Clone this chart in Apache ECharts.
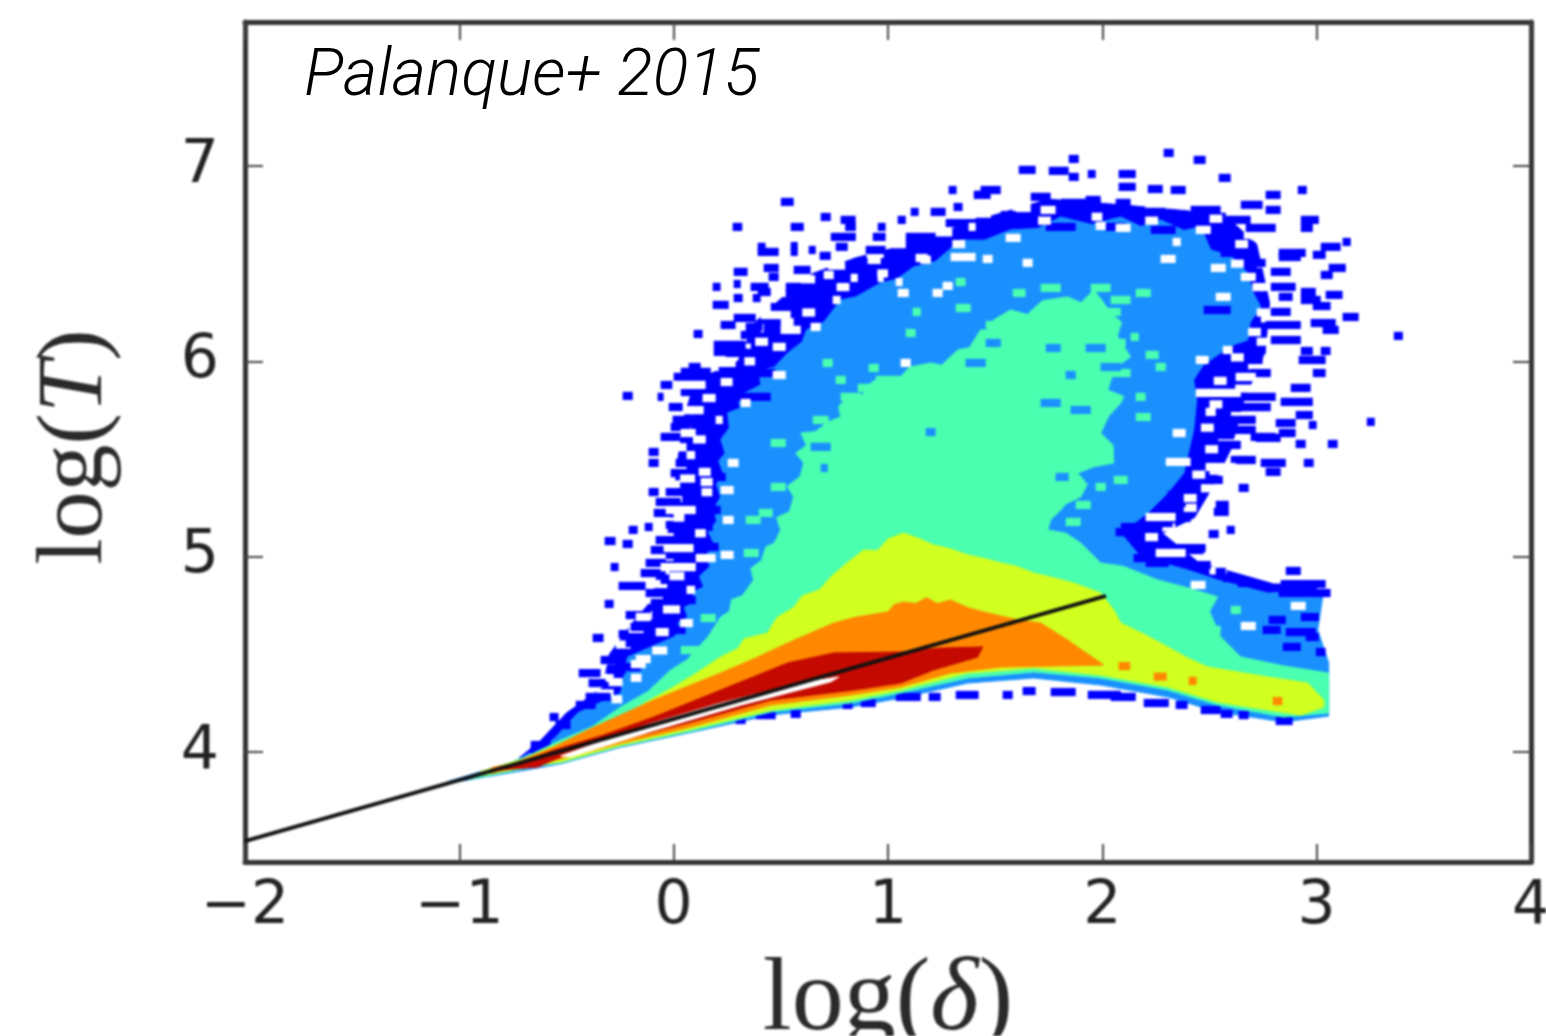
<!DOCTYPE html>
<html><head><meta charset="utf-8">
<style>
html,body{margin:0;padding:0;background:#fff}
#c{width:1546px;height:1036px}
#c canvas[data-zr-dom-id="zr_0"]{filter:blur(0.8px)}
</style>
<script src="https://cdn.jsdelivr.net/npm/echarts@6/dist/echarts.min.js"></script>
</head><body><div id="c"></div>
<script>
const xTicks=[-2,-1,0,1,2,3,4];
const xTickLabels=['−2','−1','0','1','2','3','4'];
const yTicks=[4,5,6,7];
const yTickLabels=['4','5','6','7'];
const fitLine=[[-2,3.544],[2.017,4.799]];
const levelFringe=[[-.72,3.97],[-.62,4.06],[-.5,4.2],[-.33,4.33],[-.3,4.5],[-.2,4.65],[-.1,4.78],[-.07,4.95],[-.03,5.1],[0,5.3],[.02,5.5],[.05,5.72],[.1,5.9],[.3,6.0],[.38,6.2],[.5,6.32],[.65,6.45],[.85,6.53],[1.1,6.6],[1.3,6.68],[1.5,6.75],[1.75,6.83],[2.1,6.8],[2.4,6.77],[2.6,6.72],[2.72,6.6],[2.78,6.3],[2.76,6.05],[2.66,5.8],[2.6,5.55],[2.5,5.33],[2.43,5.2],[2.28,5.12],[2.45,4.97],[2.8,4.86],[3.0,4.86],[3.0,4.6],[2.5,4.5],[.2,4.5]];
const fringeNotches=[[4.3,-.36,-.28],[4.38,-.34,-.28],[4.47,-.33,-.26],[4.55,-.27,-.2],[4.63,-.21,-.14],[4.7,-.17,-.1],[4.78,-.13,-.05],[4.86,-.1,-.03],[4.93,-.09,-.02],[5.0,-.08,0],[5.1,-.06,0],[5.18,-.04,.03],[5.3,-.02,.04],[5.37,-.02,.03],[5.45,0,.06],[5.56,0,.06],[5.65,.03,.08],[5.75,.03,.09],[5.86,.05,.11],[5.97,.2,.27],[6.07,.28,.36],[6.17,.34,.42],[6.26,.42,.5],[6.35,.48,.56],[6.42,.58,.66],[6.49,.72,.8],[6.55,.9,.98],[6.6,1.02,1.1],[6.66,1.22,1.3],[6.73,1.4,1.48],[6.79,1.58,1.66],[6.8,2.2,2.3],[6.75,2.55,2.62],[6.64,2.66,2.74],[6.5,2.72,2.78],[6.38,2.74,2.8],[6.22,2.74,2.8],[6.1,2.72,2.78],[5.98,2.68,2.76],[5.86,2.62,2.7],[5.72,2.6,2.66],[5.58,2.54,2.62],[5.44,2.5,2.56],[5.35,2.46,2.52],[5.25,2.38,2.44],[5.15,2.28,2.34],[5.04,2.36,2.44],[4.93,2.5,2.58]];
const levelBlue=[[-1.05,3.85],[-.75,3.95],[-.6,4.03],[-.55,4.077],[-.448,4.2],[-.247,4.302],[-.215,4.486],[0,4.589],[.03,4.62],[.02,4.66],[.065,4.691],[.05,4.74],[.1,4.77],[.09,4.82],[.14,4.845],[.12,4.9],[.17,4.95],[.15,5.0],[.187,5.07],[.16,5.13],[.2,5.18],[.19,5.25],[.219,5.306],[.2,5.37],[.23,5.43],[.21,5.49],[.24,5.53],[.22,5.6],[.26,5.66],[.252,5.736],[.31,5.76],[.3,5.82],[.406,5.879],[.4,5.95],[.47,5.97],[.532,6.043],[.6,6.1],[.62,6.16],[.7,6.2],[.779,6.314],[.85,6.33],[.966,6.401],[1.04,6.42],[1.12,6.483],[1.22,6.51],[1.339,6.621],[1.45,6.62],[1.572,6.673],[1.7,6.68],[1.806,6.739],[1.95,6.7],[2.086,6.739],[2.18,6.69],[2.272,6.724],[2.38,6.67],[2.459,6.688],[2.506,6.57],[2.6,6.54],[2.678,6.452],[2.7,6.36],[2.739,6.278],[2.69,6.2],[2.678,6.109],[2.6,6.08],[2.552,6.043],[2.47,5.98],[2.426,5.905],[2.44,5.8],[2.426,5.649],[2.38,5.428],[2.305,5.326],[2.212,5.224],[2.086,5.121],[2.179,4.998],[2.398,4.932],[2.538,4.881],[2.772,4.814],[3.033,4.829],[3.005,4.625],[3.056,4.456],[3.056,4.184],[2.846,4.154],[2.538,4.205],[2.305,4.282],[1.992,4.343],[1.68,4.379],[1.372,4.353],[1.059,4.276],[.826,4.23],[.453,4.19],[.079,4.1],[-.247,4.025],[-.527,3.94],[-.65,3.915],[-1.05,3.84]];
const levelGreen=[[-.95,3.875],[-.7,3.97],[-.527,4.061],[-.38,4.13],[-.247,4.23],[-.12,4.31],[-.014,4.42],[.06,4.47],[.159,4.589],[.19,4.64],[.219,4.691],[.26,4.72],[.27,4.78],[.32,4.8],[.373,4.881],[.36,4.94],[.41,4.98],[.43,5.05],[.47,5.07],[.499,5.137],[.48,5.2],[.54,5.23],[.56,5.306],[.53,5.36],[.59,5.41],[.607,5.48],[.57,5.53],[.62,5.57],[.593,5.633],[.66,5.64],[.72,5.69],[.779,5.715],[.77,5.77],[.812,5.818],[.88,5.83],[.92,5.89],[.966,5.92],[1.05,5.91],[1.1,5.97],[1.199,5.992],[1.25,5.98],[1.325,6.058],[1.38,6.07],[1.432,6.161],[1.47,6.16],[1.493,6.212],[1.572,6.263],[1.65,6.24],[1.72,6.31],[1.838,6.33],[1.9,6.3],[1.96,6.365],[2.0,6.31],[2.039,6.248],[2.09,6.2],[2.07,6.13],[2.132,6.022],[2.06,5.97],[2.025,5.853],[2.1,5.82],[2.086,5.787],[2.03,5.72],[1.992,5.633],[2.05,5.57],[2.053,5.48],[1.96,5.46],[1.885,5.428],[1.93,5.37],[1.899,5.306],[1.83,5.27],[1.806,5.239],[1.76,5.19],[1.745,5.137],[1.83,5.12],[1.899,5.07],[1.992,4.968],[2.1,4.95],[2.258,4.881],[2.4,4.84],[2.538,4.794],[2.5,4.72],[2.552,4.589],[2.646,4.486],[2.85,4.44],[3.056,4.404],[3.056,4.2],[2.846,4.179],[2.538,4.241],[2.305,4.317],[1.992,4.379],[1.68,4.41],[1.372,4.379],[1.059,4.302],[.826,4.251],[.453,4.205],[.079,4.105],[-.247,4.03],[-.527,3.945],[-.65,3.925],[-.95,3.86]];
const levelYellow=[[-.9,3.9],[-.7,3.965],[-.527,4.046],[-.38,4.11],[-.247,4.179],[-.12,4.26],[0,4.333],[.1,4.4],[.219,4.486],[.3,4.53],[.33,4.58],[.439,4.609],[.46,4.65],[.485,4.691],[.56,4.74],[.6,4.8],[.68,4.83],[.733,4.896],[.8,4.96],[.887,5.034],[.95,5.03],[1.0,5.09],[1.073,5.121],[1.15,5.09],[1.213,5.06],[1.29,5.04],[1.372,5.009],[1.45,4.99],[1.526,4.968],[1.6,4.95],[1.68,4.916],[1.78,4.89],[1.866,4.865],[1.992,4.814],[2.053,4.727],[2.086,4.66],[2.2,4.6],[2.305,4.538],[2.4,4.48],[2.492,4.435],[2.63,4.41],[2.772,4.384],[2.958,4.353],[3.033,4.266],[3.033,4.23],[2.926,4.189],[2.772,4.215],[2.538,4.256],[2.305,4.333],[1.992,4.394],[1.68,4.43],[1.372,4.404],[1.059,4.317],[.826,4.266],[.453,4.215],[.079,4.115],[-.247,4.035],[-.527,3.95],[-.65,3.93],[-.9,3.88]];
const levelOrange=[[-.85,3.92],[-.75,3.94],[-.56,4.026],[-.401,4.113],[-.093,4.266],[.219,4.404],[.38,4.48],[.532,4.558],[.62,4.6],[.747,4.66],[.85,4.69],[.999,4.717],[1.03,4.755],[1.073,4.768],[1.13,4.76],[1.18,4.79],[1.23,4.76],[1.292,4.778],[1.37,4.74],[1.446,4.717],[1.605,4.676],[1.712,4.66],[1.838,4.573],[2.006,4.445],[1.526,4.435],[1.292,4.404],[1.059,4.333],[.826,4.292],[.453,4.241],[.079,4.128],[-.247,4.045],[-.527,3.965],[-.747,3.918],[-.85,3.89]];
const levelRed=[[-.807,3.908],[-.56,4.01],[-.327,4.087],[-.093,4.179],[.219,4.317],[.532,4.456],[.747,4.507],[1.059,4.512],[1.246,4.532],[1.442,4.538],[1.418,4.486],[1.213,4.42],[1.059,4.353],[.84,4.317],[.453,4.266],[.065,4.148],[-.247,4.061],[-.481,3.995],[-.635,3.923]];
const emptyStripe=[[-.527,3.98],[-.107,4.145],[.219,4.25],[.593,4.355],[.77,4.384],[.733,4.36],[.313,4.24],[-.107,4.105],[-.481,3.975]];
// sparse histogram runs: [log T, log delta from, log delta to]
const sparseRuns=[[6.816,.5,.56],[6.688,.275,.32],[6.688,.546,.607],[6.739,.686,.733],[6.724,.779,.849],[6.688,.8,.85],[6.637,.733,.85],[6.586,.756,.812],[6.688,.952,.989],[6.637,.929,.989],[6.57,.896,.989],[6.586,.392,.429],[6.56,.392,.49],[6.59,.546,.579],[6.56,.546,.579],[6.57,.63,.663],[6.54,.681,.733],[6.478,.42,.49],[6.432,.443,.49],[6.458,.28,.345],[6.396,.28,.313],[6.381,.182,.219],[6.381,.359,.443],[6.355,.392,.453],[6.468,.56,.639],[6.381,.523,.593],[6.35,.523,.569],[6.324,.28,.322],[6.324,.369,.406],[6.289,.182,.257],[6.278,.453,.546],[6.222,.28,.383],[6.176,.336,.415],[6.186,.219,.289],[6.14,.093,.135],[6.135,.313,.406],[6.084,.187,.336],[6.048,.187,.336],[6.299,.546,.709],[6.33,.593,.709],[6.401,.663,.826],[6.427,.709,.849],[6.637,1.083,1.222],[6.596,1.083,1.176],[6.765,1.106,1.143],[6.724,1.045,1.083],[6.877,1.283,1.32],[6.79,1.306,1.348],[6.765,1.199,1.269],[6.852,1.4,1.432],[6.708,1.269,1.432],
[5.92,0,.196],[5.971,.07,.126],[5.946,.033,.173],[5.879,-.061,-.005],[5.843,.033,.149],[5.818,-.075,-.047],[5.823,-.238,-.191],[5.766,-.023,.042],[5.7,-.005,.149],[5.664,-.014,.079],[5.613,-.061,.033],[5.623,.065,.149],[5.869,.126,.289],[5.818,.149,.289],[5.818,.289,.453],[6.043,.243,.406],[5.956,.21,.336],[5.94,.359,.476],
[5.536,-.117,-.07],[5.48,-.117,-.07],[5.331,-.117,-.07],[5.137,-.21,-.168],[5.152,-.135,-.098],[5.08,-.322,-.271],[5.065,-.238,-.191],[4.947,-.294,-.257],[4.85,-.257,-.131],[4.758,-.322,-.28],[4.584,-.378,-.327],[4.604,-.257,-.219],[4.179,-.579,-.537],
[5.48,.009,.149],[5.531,.079,.173],[5.428,-.014,.079],[5.408,.126,.243],[5.331,-.037,.126],[5.28,-.084,.033],[5.28,.056,.196],[5.224,-.093,.009],[5.239,.103,.219],[5.162,-.037,.079],[5.152,.103,.182],[5.085,-.084,.033],[5.034,-.107,-.005],[5.05,.126,.21],[5.009,-.037,.079],[4.968,-.131,-.037],[4.947,.079,.126],[4.916,-.154,-.037],[4.881,-.061,.079],[4.814,-.131,-.014],[4.778,-.014,.103],[4.763,-.107,-.005],[4.701,-.224,-.107],[4.712,-.061,.033],[4.64,-.201,-.084],[4.625,-.037,.056],[4.558,-.224,-.107],[4.471,-.341,-.224],[4.435,-.271,-.154],[4.404,-.443,-.341],[4.353,-.397,-.317],[4.282,-.411,-.294],[4.241,-.457,-.364],[4.138,-.551,-.481],[4.036,-.667,-.574],[4.01,-.667,-.574],[4.42,-.308,-.224],
[4.164,.289,.336],[4.189,.383,.476],[4.195,.546,.593],[4.241,.789,.835],[4.251,.873,.943],[4.282,1.036,1.153],[4.282,1.19,1.246],[4.292,1.316,1.423],[4.292,1.535,1.582],[4.312,1.628,1.689],[4.307,1.759,1.876],[4.292,1.932,2.086],[4.282,2.039,2.156],[4.251,2.193,2.31],[4.241,2.342,2.398],[4.215,2.459,2.552],[4.195,2.552,2.608],[4.189,2.636,2.683],[4.159,2.809,2.888],
[4.927,2.856,2.926],[4.86,2.832,3.042],[4.814,2.823,3.019],[4.814,3.0,3.065],[4.691,2.926,3.01],[4.676,2.776,2.856],[4.625,2.748,2.832],[4.614,2.856,2.996],[4.538,2.842,2.926],[4.512,2.996,3.042],[4.589,2.949,3.01],
[5.126,2.062,2.226],[5.152,2.086,2.202],[5.172,2.249,2.328],[5.198,2.356,2.412],[5.316,2.305,2.403],[5.275,2.319,2.389],[5.265,2.529,2.59],[5.229,2.52,2.59],[5.137,2.58,2.618],[5.116,2.496,2.543],[5.352,2.636,2.683],[5.044,2.328,2.482],[5.034,2.389,2.473],[4.993,2.146,2.296],[4.968,2.202,2.31],[4.957,2.412,2.506],[4.922,2.529,2.576],[4.891,2.562,2.622],[4.865,2.632,2.692],[4.855,2.702,2.748],
[7.067,2.286,2.333],[7.031,2.426,2.482],[6.939,2.543,2.599],[7.036,1.843,1.89],[6.98,1.61,1.689],[6.975,1.75,1.843],[6.944,1.843,1.89],[6.959,1.932,1.969],[6.959,2.076,2.156],[6.893,2.076,2.156],[6.882,2.212,2.282],[6.877,2.319,2.389],[6.877,2.912,2.954],[6.852,2.762,2.832],[6.801,2.646,2.748],[6.775,2.762,2.832],[6.724,2.926,3.01],[6.683,2.926,2.982],[6.555,2.823,2.949],[6.534,2.823,2.926],[6.586,3.019,3.112],[6.545,2.982,3.042],[6.611,3.121,3.159],[6.478,3.056,3.136],[6.442,3.019,3.075],[6.458,2.786,2.879],[6.381,2.786,2.902],[6.33,2.823,2.888],[6.355,2.926,2.996],[6.34,3.042,3.121],[6.314,2.926,3.019],[6.283,2.982,3.065],[6.253,2.786,2.879],[6.227,3.121,3.196],[6.196,2.972,3.089],[6.161,3.028,3.103],[6.186,2.762,2.926],[6.13,3.36,3.402],[6.109,2.786,2.926],[5.69,3.234,3.271],[6.053,2.926,2.982],[6.053,3.019,3.065],[6.007,2.916,3.042],[5.94,2.982,3.042],[6.058,2.622,2.762],[6.007,2.622,2.748],[5.94,2.692,2.786],[5.864,2.879,2.972],[5.792,2.832,2.982],[5.725,2.902,2.982],[5.684,2.809,2.902],[5.674,2.963,3.0],[5.633,2.823,2.888],[5.818,2.646,2.809],[5.766,2.599,2.786],[5.7,2.552,2.716],[5.649,2.576,2.716],[5.613,2.692,2.809],[6.263,2.473,2.599],
[6.811,1.806,1.992],[6.775,1.806,1.969],[6.842,1.666,1.759],[6.826,1.922,1.992],[6.877,1.432,1.526],[6.852,1.409,1.479],[6.811,2.062,2.132],[6.765,2.179,2.296],[6.775,2.412,2.552],[6.739,2.412,2.576],[6.724,2.576,2.692],[6.683,2.669,2.809],[6.673,2.226,2.342],[6.749,1.526,1.666],[6.714,1.409,1.526],[6.724,1.526,1.689],[6.688,1.736,1.876],[6.688,2.016,2.109],[6.555,2.552,2.669],[6.504,2.669,2.762],[6.606,2.576,2.692],
[5.572,2.506,2.646],[5.459,2.459,2.576],[5.393,2.436,2.562],[5.495,2.599,2.716],[5.48,2.739,2.856],[5.434,2.762,2.832],[5.608,2.716,2.832],[5.577,2.902,2.949],[5.577,3.052,3.098],[5.48,2.94,2.986],[5.633,2.832,2.902]];
const emptyRuns=[[6.688,1.376,1.409],[6.529,1.129,1.185],[6.534,1.292,1.409],[6.519,.905,.966],[6.427,.826,.859],[6.427,.952,.98],[6.406,1.036,1.068],[6.35,1.045,1.097],[6.35,1.208,1.255],[6.386,1.255,1.302],[6.442,.7,.747],[6.314,.742,.779],[6.237,.406,.546],[6.161,.499,.593],[6.176,.639,.686],[6.074,.462,.523],[5.992,.182,.289],[5.93,.462,.523],[5.894,.219,.275],[5.879,-.005,.149],[5.812,.135,.196],[5.787,.313,.359],[5.633,.033,.103],[5.7,.196,.229],[5.992,1.059,1.106],
[6.524,1.442,1.488],[6.504,1.628,1.675],[6.632,1.549,1.619],[6.785,1.596,1.666],[6.775,1.712,1.782],[6.693,1.969,2.016],[6.683,2.062,2.132],[6.611,2.328,2.366],[6.524,2.272,2.342],[6.673,2.436,2.506],[6.478,2.506,2.576],[6.432,2.646,2.716],[6.33,2.529,2.599],[6.007,2.436,2.496],[6.058,2.562,2.608],[5.92,2.622,2.716],[5.838,2.436,2.646],[5.741,2.482,2.529],[5.633,2.328,2.389],
[5.203,2.202,2.342],[5.019,2.249,2.389],[4.855,2.412,2.482],[4.645,2.646,2.716],[4.748,2.879,2.949],[5.485,2.296,2.412],[5.459,2.482,2.622],
[5.239,-.037,.103],[5.044,-.047,.093],[4.947,-.061,.103],[4.993,.103,.196],[5.188,.229,.28],[5.48,.252,.303],[5.434,.117,.173],[5.341,.219,.28],[5.009,.219,.28],[5.382,.126,.182],[4.691,-.177,-.107],[4.614,-.084,-.023],[4.476,-.177,-.107],[4.358,-.303,-.238],
[5.75,.08,.14],[5.6,.09,.15],[5.52,.06,.1],[5.4,.03,.1],[5.33,.13,.18],[5.2,0,.05],[5.12,.1,.15],[4.9,-.02,.05],[4.83,.06,.1],[4.73,-.05,.03],[4.66,.03,.09],[4.52,-.1,-.03],[4.45,-.2,-.13],[4.38,-.2,-.15],[4.27,-.29,-.24],
[6.2,.5,.56],[6.25,.6,.66],[6.38,.76,.82],[6.45,.95,1.0],[6.52,1.15,1.2],[6.6,1.3,1.36],[6.1,.38,.44],[6.0,.33,.38],
[6.72,1.7,1.76],[6.74,1.95,2.0],[6.72,2.2,2.26],[6.73,2.5,2.56],
[6.6,2.62,2.68],[6.5,2.6,2.66],[6.38,2.7,2.75],[6.25,2.72,2.78],[6.15,2.68,2.74],[6.02,2.6,2.66],[5.9,2.52,2.58],[5.78,2.5,2.56],[5.66,2.46,2.52],[5.55,2.48,2.54],[5.42,2.42,2.48],[5.3,2.38,2.44],[5.1,2.2,2.26]];
const denseSpecks=[[6.253,1.115,1.153],[6.145,1.083,1.129],[5.966,.91,.957],[5.992,.695,.742],[5.905,.756,.803],[5.818,.779,.873],[5.864,.859,.943],[5.905,.943,1.059],[5.869,1.013,1.115],[5.7,.649,.723],[6.273,1.316,1.386],[6.406,1.316,1.362],[6.186,1.456,1.54],[6.35,1.582,1.642],[6.376,1.712,1.806],[6.376,1.946,2.039],[6.35,2.156,2.226],[6.263,1.852,1.992],[6.314,2.039,2.132],[6.253,2.016,2.086],[6.125,2.132,2.17],[6.033,2.202,2.263],[5.971,2.249,2.296],[5.715,2.156,2.226],[5.818,2.156,2.202],[5.94,1.992,2.132],[6.094,1.969,2.109],[5.357,.453,.523],[5.224,.397,.462],[5.188,.336,.406],[5.582,.453,.523],[5.019,.327,.397],[4.686,.126,.196],[4.522,.033,.126],[4.973,.429,.476],[5.393,2.053,2.118],[5.265,1.876,1.946],[5.178,1.829,1.899],[5.357,1.969,2.016],[4.727,2.599,2.646],[4.625,2.459,2.552]];
const denseHoles=[[5.638,1.176,1.222],[6.094,1.456,1.526],[5.992,1.362,1.456],[6.068,1.736,1.806],[6.068,1.922,2.016],[5.971,1.992,2.086],[5.787,1.712,1.806],[5.751,1.852,1.946],[5.93,1.829,1.876],[5.454,.686,.719],[5.562,.639,.733],[5.408,1.782,1.843]];
const peakSpecks=[[4.44,2.076,2.13],[4.386,2.24,2.3],[4.364,2.403,2.44],[4.261,2.795,2.84]];

function area(pts,color,name){
  return {type:'custom',name:name,silent:true,data:pts,renderItem:function(p,api){
    if(p.dataIndex!==0) return null;
    return {type:'polygon',shape:{points:pts.map(q=>api.coord(q))},style:{fill:color,stroke:color,lineWidth:1}};
  }};
}
function runs(list,color,name){
  return {type:'custom',name:name,silent:true,data:list,renderItem:function(p,api){
    const r=list[p.dataIndex];
    const a=api.coord([r[1],r[0]+0.021]), b=api.coord([r[2],r[0]-0.021]);
    return {type:'rect',shape:{x:a[0],y:a[1],width:b[0]-a[0],height:b[1]-a[1]},style:{fill:color}};
  }};
}
const tickLook={show:true,inside:true,length:18,lineStyle:{color:'#444',width:2}};
const lineLook={show:true,onZero:false,lineStyle:{color:'#333',width:5}};
const labelFont={fontFamily:'DejaVu Sans',fontSize:60,color:'#222'};
const serif='"Liberation Serif"';
const chart=echarts.init(document.getElementById('c'),null,{renderer:'canvas'});
chart.setOption({
  animation:false,
  backgroundColor:'#fff',
  title:{text:'Palanque+ 2015',left:299,top:40,zlevel:1,textStyle:{fontFamily:'Roboto',fontStyle:'italic',fontWeight:300,fontSize:66,color:'#000'}},
  grid:{left:245,right:15,top:22,bottom:174,containLabel:false,outerBoundsMode:'none'},
  xAxis:[
    {type:'value',position:'bottom',min:-2,max:4,axisLine:lineLook,splitLine:{show:false},
     axisTick:Object.assign({},tickLook,{customValues:xTicks}),
     axisLabel:Object.assign({},labelFont,{margin:15,customValues:xTicks,formatter:v=>xTickLabels[xTicks.indexOf(v)]||''}),
     name:'log({i|δ})',nameLocation:'middle',nameGap:88,
     nameTextStyle:{fontFamily:serif,fontSize:104,color:'#2a2a2a',rich:{i:{fontFamily:serif,fontStyle:'italic',fontSize:104,color:'#2a2a2a'}}}},
    {type:'value',position:'top',min:-2,max:4,axisLine:lineLook,splitLine:{show:false},
     axisTick:Object.assign({},tickLook,{customValues:xTicks}),axisLabel:{show:false}}
  ],
  yAxis:[
    {type:'value',position:'left',min:3.437,max:7.737,axisLine:lineLook,splitLine:{show:false},
     axisTick:Object.assign({},tickLook,{customValues:yTicks}),
     axisLabel:Object.assign({},labelFont,{margin:26,padding:[12,0,0,0],customValues:yTicks,formatter:v=>yTickLabels[yTicks.indexOf(v)]||''}),
     name:'log({i|T})',nameLocation:'middle',nameGap:122,nameRotate:90,
     nameTextStyle:{fontFamily:serif,fontSize:94,color:'#2a2a2a',padding:[0,10,0,0],rich:{i:{fontFamily:serif,fontStyle:'italic',fontSize:94,color:'#2a2a2a'}}}},
    {type:'value',position:'right',min:3.437,max:7.737,axisLine:lineLook,splitLine:{show:false},
     axisTick:Object.assign({},tickLook,{customValues:yTicks}),axisLabel:{show:false}}
  ],
  series:[
    area(levelFringe,'#0000ff','fringe'),
    runs(fringeNotches,'#ffffff','notches'),
    area(levelBlue,'#1a90ff','level 1'),
    runs(sparseRuns,'#0000ff','sparse'),
    runs(emptyRuns,'#ffffff','empty'),
    runs(denseSpecks,'#4affaf','specks 2'),
    area(levelGreen,'#4affaf','level 2'),
    runs(denseHoles,'#1a90ff','holes 2'),
    area(levelYellow,'#d0ff20','level 3'),
    area(levelOrange,'#ff8800','level 4'),
    runs(peakSpecks,'#ff8800','specks 4'),
    area(levelRed,'#c40a00','level 5'),
    area(emptyStripe,'#ffffff','empty stripe'),
    {type:'line',name:'fit',data:fitLine,showSymbol:false,symbol:'none',silent:true,z:5,lineStyle:{color:'#111',width:4}}
  ]
});
</script></body></html>
